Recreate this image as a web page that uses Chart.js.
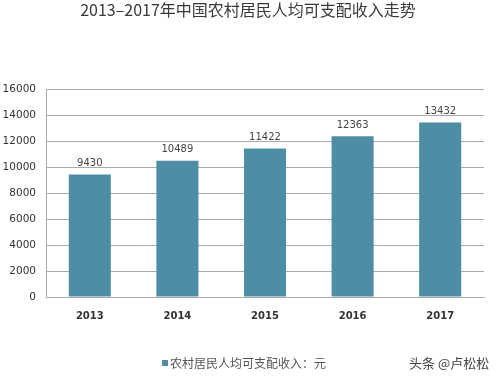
<!DOCTYPE html>
<html><head><meta charset="utf-8">
<script src="https://cdn.jsdelivr.net/npm/chart.js@4"></script>
<style>html,body{margin:0;padding:0;background:#fff}#wrap{width:500px;height:381px}</style>
</head><body><div id="wrap"><canvas id="c"></canvas></div>
<script>
const categories = ['2013','2014','2015','2016','2017'];
const incomeValues = [9430, 10489, 11422, 12363, 13432];
const yTicks = [0,2000,4000,6000,8000,10000,12000,14000,16000];
const titleText = '2013–2017年中国农村居民人均可支配收入走势';
const seriesName = '农村居民人均可支配收入：元';
const watermark = '头条 @卢松松';
const barColor = '#4d8da5';

const cjk = '"Noto Sans CJK SC", "Noto Sans", sans-serif';

const extras = {
  id: 'extras',
  afterDatasetsDraw(chart) {
    const ctx = chart.ctx;
    const meta = chart.getDatasetMeta(0);
    ctx.save();
    ctx.font = '10px "DejaVu Sans", sans-serif';
    ctx.fillStyle = '#444';
    ctx.textAlign = 'center';
    ctx.textBaseline = 'bottom';
    meta.data.forEach((bar, i) => {
      ctx.fillText(String(incomeValues[i]), bar.x, bar.y - 6);
    });
    ctx.restore();
  },
  afterDraw(chart) {
    const ctx = chart.ctx;
    ctx.save();
    ctx.font = '16px ' + cjk;
    ctx.fillStyle = '#3a3a3a';
    ctx.textAlign = 'center';
    ctx.textBaseline = 'middle';
    ctx.fillText(titleText, 248, 10);
    // legend
    ctx.fillStyle = barColor;
    ctx.fillRect(162, 360, 6, 6);
    ctx.font = '12px ' + cjk;
    ctx.fillStyle = '#555';
    ctx.textAlign = 'left';
    ctx.fillText(seriesName, 170, 363);
    ctx.font = '13px ' + cjk;
    ctx.fillStyle = '#444';
    ctx.fillText(watermark, 409, 363);
    ctx.restore();
  }
};

new Chart(document.getElementById('c'), {
  type: 'bar',
  data: {
    labels: categories,
    datasets: [{ label: seriesName, data: incomeValues, backgroundColor: barColor,
      categoryPercentage: 1, barPercentage: 0.48 }]
  },
  options: {
    responsive: true, maintainAspectRatio: false, animation: false,
    layout: { padding: { top: 89, right: 16, left: 0, bottom: 0 } },
    plugins: { legend: { display: false }, title: { display: false }, tooltip: { enabled: false } },
    scales: {
      x: {
        grid: { display: false, drawTicks: false },
        border: { display: true, color: '#aaa' },
        ticks: { color: '#333', font: { family: '"DejaVu Sans", sans-serif', size: 10, weight: 'bold' }, padding: 13 },
        afterFit(s) { s.height = 84; }
      },
      y: {
        min: 0, max: 16000,
        afterBuildTicks(s) { s.ticks = yTicks.map(v => ({ value: v })); },
        grid: { color: '#aaa', drawTicks: false },
        border: { display: true, color: '#aaa' },
        ticks: { color: '#333', font: { family: '"DejaVu Sans", sans-serif', size: 10.5 }, padding: 10,
          callback: v => String(v) },
        afterFit(s) { s.width = 46; }
      }
    }
  },
  plugins: [extras]
});
</script></body></html>
